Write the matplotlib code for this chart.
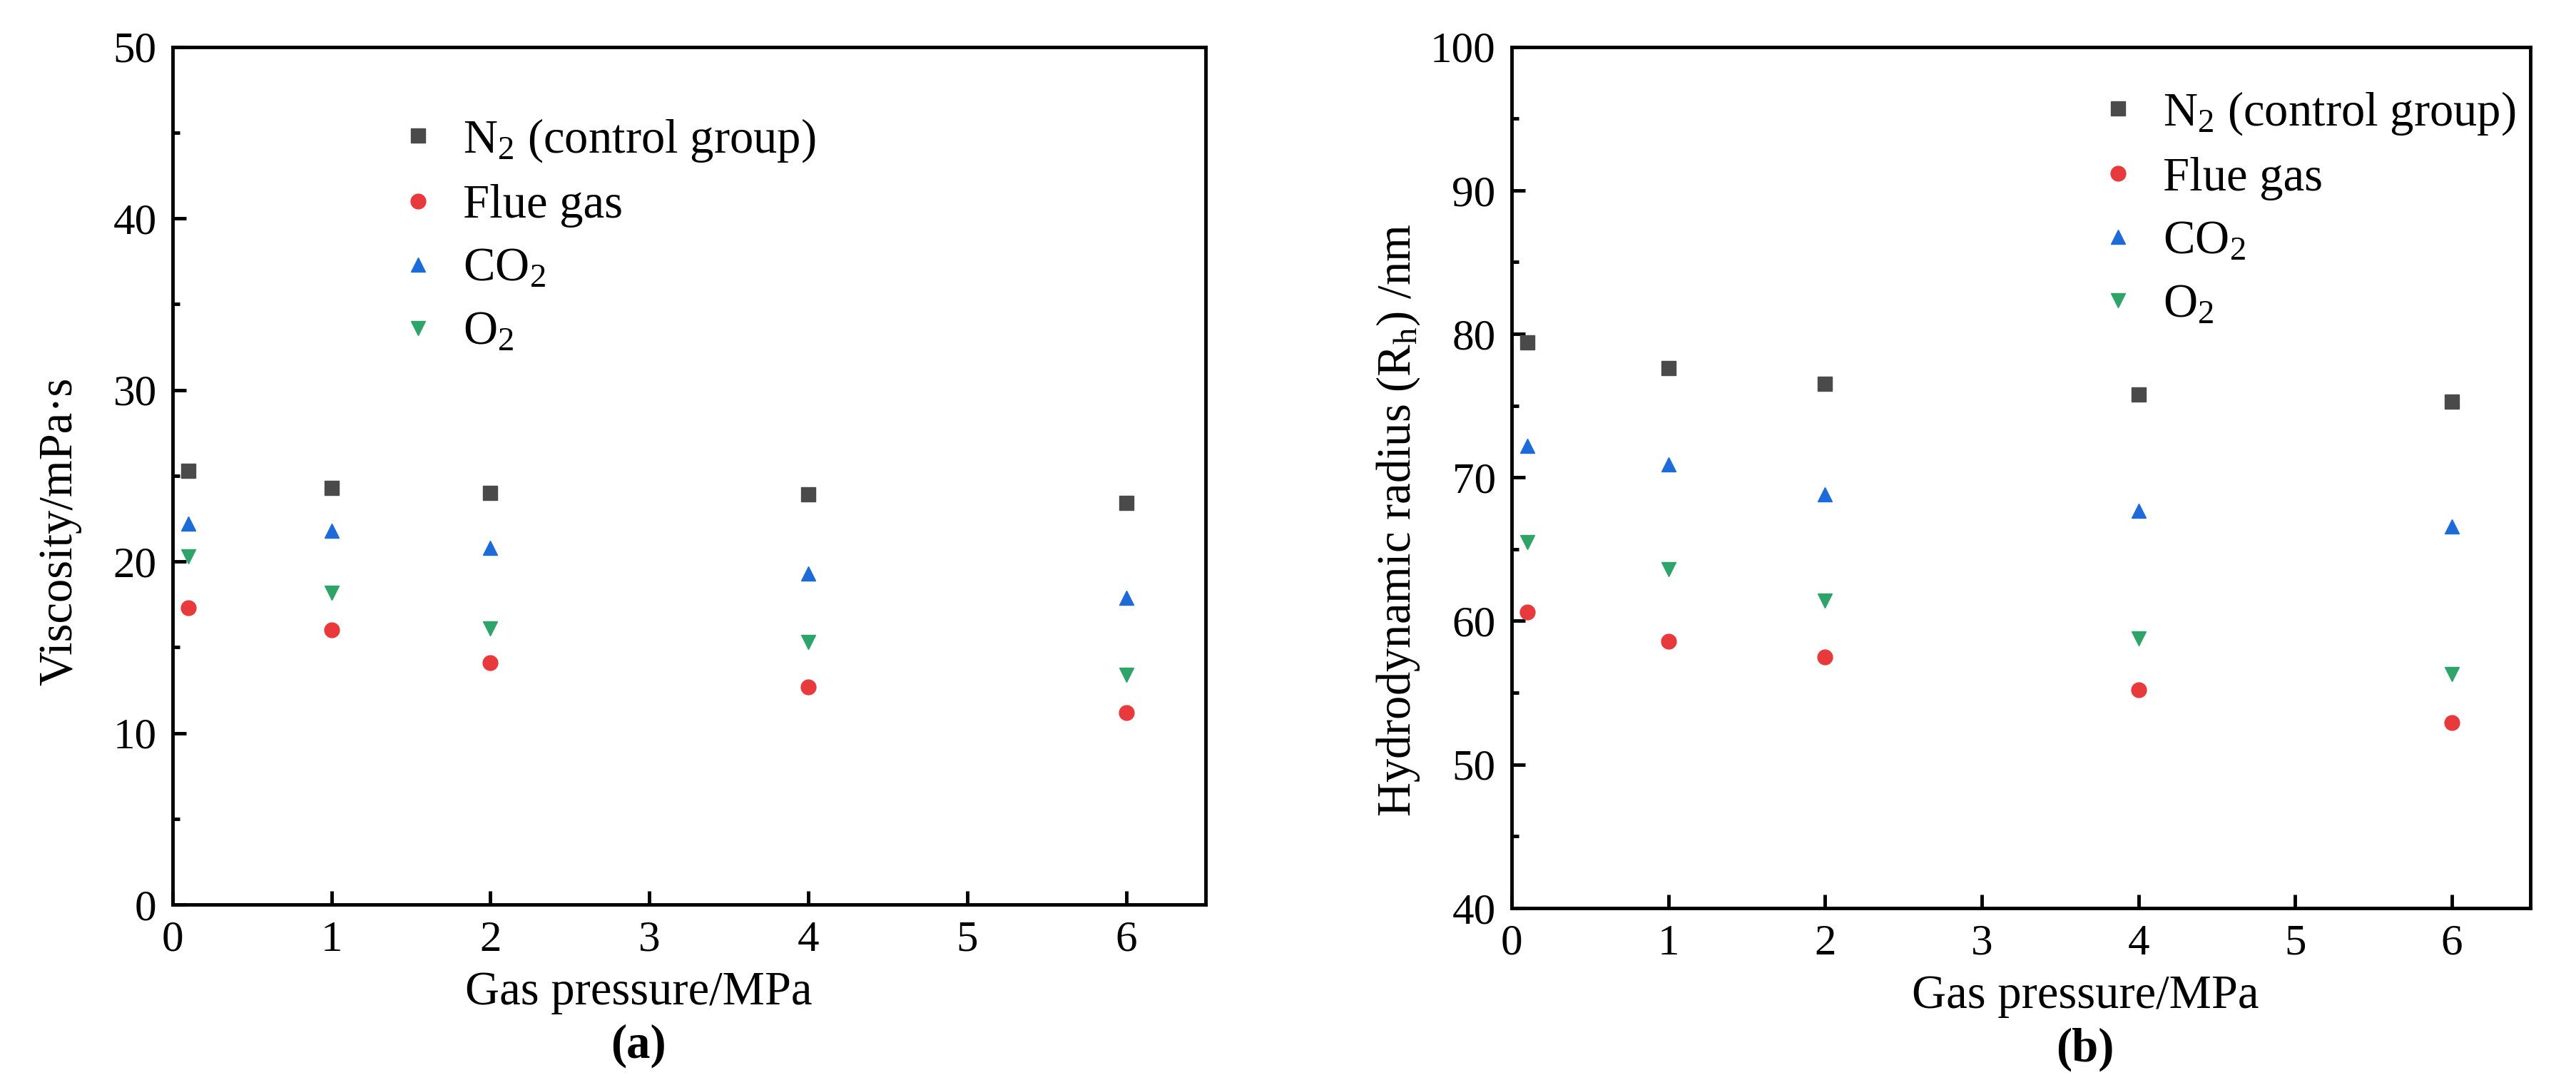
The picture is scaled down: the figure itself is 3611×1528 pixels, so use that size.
import matplotlib
matplotlib.use("Agg")
import matplotlib.pyplot as plt
from matplotlib.ticker import MultipleLocator

plt.rcParams['font.family'] = ['Liberation Serif', 'DejaVu Serif']
plt.rcParams['mathtext.fontset'] = 'custom'
plt.rcParams['mathtext.rm'] = 'Liberation Serif'
plt.rcParams['mathtext.it'] = 'Liberation Serif:italic'

# Data
pressure = [0.1, 1, 2, 4, 6]
labels = [r'N$_2$ (control group)', 'Flue gas', r'CO$_2$', r'O$_2$']

visc_n2 = [25.3, 24.3, 24.0, 23.9, 23.4]
visc_flue = [17.3, 16.0, 14.1, 12.7, 11.2]
visc_co2 = [22.2, 21.8, 20.8, 19.3, 17.9]
visc_o2 = [20.3, 18.2, 16.1, 15.3, 13.4]

rh_n2 = [79.4, 77.6, 76.5, 75.8, 75.3]
rh_flue = [60.6, 58.6, 57.5, 55.2, 52.9]
rh_co2 = [72.2, 70.9, 68.8, 67.7, 66.6]
rh_o2 = [65.5, 63.6, 61.4, 58.8, 56.3]

colors = ['#4a4a4a', '#e83a3c', '#1c6bd8', '#2ea468']
markers = ['s', 'o', '^', 'v']

fig = plt.figure(figsize=(36.11, 15.28), dpi=100)
ax1 = fig.add_axes([0.0670, 0.170, 0.401, 0.787])
ax2 = fig.add_axes([0.5868, 0.167, 0.3954, 0.790])

TFS = 44
LFS = 48


def style(ax, ylim):
    ax.set_xlim(0, 6.5)
    ax.set_ylim(*ylim)
    ax.xaxis.set_major_locator(MultipleLocator(1))
    ax.yaxis.set_major_locator(MultipleLocator(10))
    ax.yaxis.set_minor_locator(MultipleLocator(5))
    ax.tick_params(which='both', direction='in', top=False, right=False,
                   labelsize=TFS, width=3.5)
    ax.tick_params(which='major', length=14, pad=16)
    ax.tick_params(which='minor', length=7)
    for s in ax.spines.values():
        s.set_linewidth(3.5)


for ys, lab, c, m in zip([visc_n2, visc_flue, visc_co2, visc_o2], labels, colors, markers):
    ax1.plot(pressure, ys, linestyle='none', marker=m, color=c, markersize=15, label=lab)
for ys, lab, c, m in zip([rh_n2, rh_flue, rh_co2, rh_o2], labels, colors, markers):
    ax2.plot(pressure, ys, linestyle='none', marker=m, color=c, markersize=15, label=lab)

style(ax1, (0, 50))
style(ax2, (40, 100))

ax1.set_ylabel('Viscosity/mPa·s', fontsize=LFS)
ax2.set_ylabel(r'Hydrodynamic radius (R$_\mathrm{h}$) /nm', fontsize=LFS)
ax1.yaxis.set_label_coords(-0.088, 0.435)
ax2.yaxis.set_label_coords(-0.088, 0.45)

# x labels sit off-centre as in the original figure
ax1.text(0.451, -0.116, 'Gas pressure/MPa', transform=ax1.transAxes,
         fontsize=LFS, ha='center', va='baseline')
ax2.text(0.563, -0.116, 'Gas pressure/MPa', transform=ax2.transAxes,
         fontsize=LFS, ha='center', va='baseline')
ax1.text(0.451, -0.178, '(a)', transform=ax1.transAxes, fontsize=LFS,
         fontweight='bold', ha='center', va='baseline')
ax2.text(0.563, -0.178, '(b)', transform=ax2.transAxes, fontsize=LFS,
         fontweight='bold', ha='center', va='baseline')

leg_kw = dict(frameon=False, fontsize=LFS, handlelength=1.0, handletextpad=0.45,
              labelspacing=0.42, markerscale=1.0)
ax1.legend(loc='upper left', bbox_to_anchor=(0.173, 0.968), **leg_kw)
ax2.legend(loc='upper left', bbox_to_anchor=(0.53, 1.0), **leg_kw)

fig.savefig('out.png', dpi=100)
